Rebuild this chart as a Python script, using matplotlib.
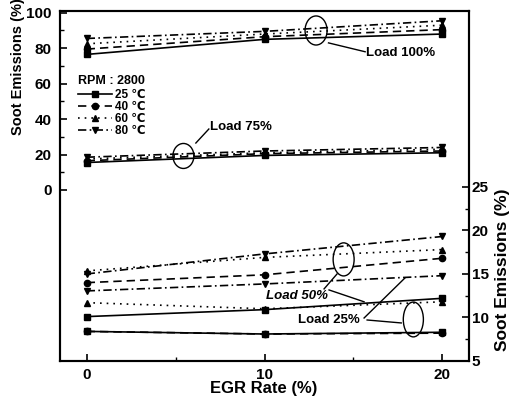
import matplotlib
matplotlib.use('Agg')
import matplotlib.pyplot as plt
from matplotlib.patches import Ellipse
from matplotlib.ticker import MultipleLocator, FixedLocator

plt.rcParams['font.family'] = ['Liberation Sans', 'DejaVu Sans']
plt.rcParams['font.weight'] = 'bold'

# ── data ──
egr = [0, 10, 20]
temps = ['25 ℃', '40 ℃', '60 ℃', '80 ℃']

# upper group, left axis
load100 = [
    [76.5, 85.0, 88.0],
    [79.5, 86.5, 90.5],
    [82.5, 88.0, 93.0],
    [85.5, 89.5, 95.5],
]
load75 = [
    [15.5, 19.5, 21.0],
    [16.5, 20.5, 22.0],
    [17.5, 21.0, 23.0],
    [18.5, 22.0, 24.0],
]

# lower group, right axis
load50 = [
    [10.1, 10.9, 12.2],
    [14.0, 14.9, 16.8],
    [15.35, 16.9, 17.8],
    [15.0, 17.3, 19.3],
]
load25 = [
    [8.4, 8.1, 8.3],
    [8.4, 8.1, 8.2],
    [11.7, 11.0, 11.8],
    [13.05, 13.85, 14.8],
]

# line style per temperature
STYLES = [
    dict(linestyle='-', marker='s'),
    dict(linestyle=(0, (5, 3)), marker='o'),
    dict(linestyle=(0, (1, 3)), marker='^'),
    dict(linestyle=(0, (5, 2, 1, 2)), marker='v'),
]

fig = plt.figure(figsize=(5.14, 4.01), dpi=100)
ax = fig.add_axes([60 / 514, 40 / 401, 409 / 514, 350 / 401])
ax2 = ax.twinx()

common = dict(color='black', linewidth=1.2, markersize=4.5)

for i in range(4):
    ax.plot(egr, load100[i], **STYLES[i], **common)
    ax.plot(egr, load75[i], **STYLES[i], **common)

handles = []
for i in range(4):
    h, = ax2.plot(egr, load50[i], **STYLES[i], **common)
    ax2.plot(egr, load25[i], **STYLES[i], **common)
    handles.append(h)

# ── axes ──
ax.set_xlim(-1.5, 21.5)
ax.set_ylim(-96.5, 101)
ax2.set_ylim(5, 45.2)

ax.set_xticks([0, 10, 20])
ax.xaxis.set_minor_locator(MultipleLocator(5))
ax.set_yticks([0, 20, 40, 60, 80, 100])
ax.yaxis.set_minor_locator(FixedLocator([10, 30, 50, 70, 90]))
ax2.set_yticks([5, 10, 15, 20, 25])
ax2.yaxis.set_minor_locator(FixedLocator([7.5, 12.5, 17.5, 22.5]))

for a in (ax, ax2):
    a.tick_params(which='major', direction='in', length=5, width=1.2, labelsize=11)
    a.tick_params(which='minor', direction='in', length=3, width=1.0)
    for s in a.spines.values():
        s.set_linewidth(1.5)
ax.tick_params(axis='y', pad=6)
ax.tick_params(axis='x', pad=5)
ax2.tick_params(axis='y', pad=2)

# axis titles placed in figure pixels
fig.text(264 / 514, 1 - 389 / 401, 'EGR Rate (%)', fontsize=12, fontweight='bold',
         ha='center', va='center')
fig.text(18 / 514, 1 - 67 / 401, 'Soot Emissions (%)', fontsize=10.5, fontweight='bold',
         ha='center', va='center', rotation=90)
fig.text(502 / 514, 1 - 270 / 401, 'Soot Emissions (%)', fontsize=12.5, fontweight='bold',
         ha='center', va='center', rotation=90)

# ── legend ──
leg = ax.legend(handles, temps, title='RPM : 2800', loc='upper left',
                bbox_to_anchor=(0.025, 0.84), frameon=False, fontsize=8.5,
                title_fontsize=9, alignment='left', handlelength=2.8,
                handletextpad=0.3, labelspacing=0.0, borderpad=0.2)
leg.get_title().set_fontweight('bold')
leg._legend_box.sep = 1

# ── annotations ──
ell = dict(fill=False, edgecolor='black', linewidth=1.0)
ax.add_patch(Ellipse((12.9, 90), 1.24, 16.4, **ell))
ax.add_patch(Ellipse((5.44, 19.2), 1.18, 14.1, **ell))
ax2.add_patch(Ellipse((14.45, 16.67), 1.18, 3.8, **ell))
ax2.add_patch(Ellipse((18.37, 9.77), 1.13, 4.0, **ell))

lw = dict(color='black', linewidth=1.0)
ax.plot([13.6, 15.66], [83, 78], **lw)
ax.text(15.7, 77.3, 'Load 100%', fontsize=9.5, va='center', ha='left')
ax.plot([6.14, 6.87], [26.5, 34.4], **lw)
ax.text(6.93, 35.6, 'Load 75%', fontsize=9.5, va='center', ha='left')

ax2.plot([14.08, 13.35], [15.0, 13.28], **lw)
ax2.plot([13.63, 15.6], [13.16, 11.8], **lw)
ax2.text(10.08, 12.47, 'Load 50%', fontsize=9.5, va='center', ha='left', style='italic')
ax2.plot([15.6, 17.9], [9.94, 14.54], **lw)
ax2.plot([15.77, 17.69], [9.71, 9.37], **lw)
ax2.text(11.9, 9.71, 'Load 25%', fontsize=9.5, va='center', ha='left')

fig.savefig('out.png', dpi=100)
